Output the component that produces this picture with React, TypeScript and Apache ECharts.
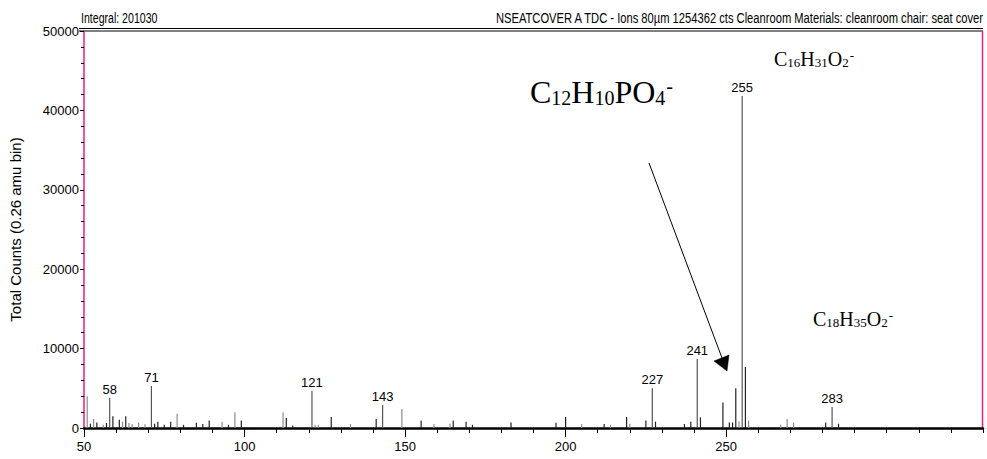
import React, { useEffect, useRef } from "react";
import * as echarts from "echarts";

// ---------- data ----------
const xTickLabels = [50, 100, 150, 200, 250, 300];
const yTickLabels = [0, 10000, 20000, 30000, 40000, 50000];

// labeled peaks: [m/z, counts]
const labeledPeaks: [number, number][] = [
  [58, 3800], [71, 5300], [121, 4700], [143, 2900],
  [227, 5000], [241, 8700], [255, 41800], [283, 2650],
];

// unlabeled dark peaks
const darkPeaks: [number, number][] = [
  [52, 540], [54, 700], [57, 630], [59, 1470], [61, 1050], [63, 1470],
  [72, 540], [73, 800], [75, 400], [77, 800], [81, 400], [85, 670],
  [87, 500], [89, 960], [95, 400], [99, 960], [113, 1260], [115, 300],
  [127, 1390], [141, 1130], [155, 960], [165, 960], [169, 800], [171, 400],
  [183, 700], [197, 670], [200, 1390], [212, 500], [219, 1390], [225, 950],
  [228, 800], [237, 500], [239, 800], [242, 1340], [249, 3200], [251, 700],
  [252, 700], [253, 5000], [256, 7700], [281, 700], [285, 540],
];

// unlabeled grey peaks
const grayPeaks: [number, number][] = [
  [51, 4000], [53, 1130], [56, 400], [62, 800], [64, 630], [65, 500],
  [67, 670], [69, 480], [79, 1800], [93, 800], [97, 1970], [112, 1970],
  [122, 400], [123, 400], [133, 500], [149, 2400], [159, 500], [164, 540],
  [205, 500], [214, 400], [220, 540], [254, 840], [257, 960], [267, 400],
  [269, 1130], [271, 700],
];

const headerLeft = "Integral: 201030";
const headerRight =
  "NSEATCOVER A TDC - Ions 80µm 1254362 cts Cleanroom Materials: cleanroom chair: seat cover";
const yAxisTitle = "Total Counts (0.26 amu bin)";

// formula pieces: [text, role]  role: n = normal, s = subscript, p = superscript
const formulaBig: [string, string][] = [["C", "n"], ["12", "s"], ["H", "n"], ["10", "s"], ["PO", "n"], ["4", "s"], ["-", "p"]];
const formulaTop: [string, string][] = [["C", "n"], ["16", "s"], ["H", "n"], ["31", "s"], ["O", "n"], ["2", "s"], ["-", "p"]];
const formulaLow: [string, string][] = [["C", "n"], ["18", "s"], ["H", "n"], ["35", "s"], ["O", "n"], ["2", "s"], ["-", "p"]];

// ---------- styling ----------
const NARROW = "'Liberation Sans Narrow', 'Arial Narrow', 'Liberation Sans', Arial, sans-serif";
const SANS = "'Liberation Sans', Arial, sans-serif";
const SERIF = "'Liberation Serif', 'Times New Roman', serif";
const PINK = "#ee1a8c";

function richFormula(parts: [string, string][]) {
  return parts.map(([t, r]) => `{${r}|${t}}`).join("");
}

function bigRich() {
  return {
    n: { fontFamily: SERIF, fontSize: 32, lineHeight: 32, verticalAlign: "top", fill: "#000" },
    s: { fontFamily: SERIF, fontSize: 20, lineHeight: 20, padding: [12, 0, 0, 0], verticalAlign: "top", fill: "#000" },
    p: { fontFamily: SERIF, fontSize: 20, lineHeight: 10, padding: [0, 0, 0, 1], verticalAlign: "top", fill: "#000" },
  };
}
function smallRich() {
  return {
    n: { fontFamily: SERIF, fontSize: 20, lineHeight: 20, verticalAlign: "top", fill: "#000" },
    s: { fontFamily: SERIF, fontSize: 13, lineHeight: 13, padding: [7, 0, 0, 0], verticalAlign: "top", fill: "#000" },
    p: { fontFamily: SERIF, fontSize: 13, lineHeight: 6, padding: [0, 0, 0, 1], verticalAlign: "top", fill: "#000" },
  };
}

function barSeries(arr: [number, number][], color: string, labeled: boolean) {
  return {
    type: "bar",
    data: arr.map(([m, v]) => [m, v]),
    barWidth: 1.2,
    barGap: "-100%",
    silent: true,
    itemStyle: { color },
    label: labeled
      ? {
          show: true,
          position: "top",
          distance: 2,
          fontFamily: NARROW,
          fontSize: 13,
          color: "#000",
          formatter: (p: any) => String(p.value[0]),
        }
      : { show: false },
  };
}

export default function App() {
  const ref = useRef<HTMLDivElement>(null);

  useEffect(() => {
    if (!ref.current) return;
    const chart = echarts.init(ref.current, undefined, { renderer: "svg" });

    const option: any = {
      animation: false,
      backgroundColor: "#fff",
      grid: { left: 80, right: 4, top: 31, bottom: 31, containLabel: false },
      xAxis: [
        {
          type: "value",
          min: 50,
          max: 330,
          interval: 50,
          axisLine: { show: true, onZero: false, lineStyle: { color: "#000", width: 2.5 } },
          axisTick: { show: true, length: 9, customValues: xTickLabels, lineStyle: { color: "#000" } },
          axisLabel: {
            customValues: xTickLabels,
            fontFamily: NARROW,
            fontSize: 13,
            color: "#000",
            margin: 12,
            showMaxLabel: false,
            formatter: (v: number) => String(v),
          },
          splitLine: { show: false },
        },
        {
          type: "value",
          min: 50,
          max: 330,
          interval: 10,
          position: "bottom",
          axisLine: { show: false },
          axisTick: { show: true, length: 5, lineStyle: { color: "#000" } },
          axisLabel: { show: false },
          splitLine: { show: false },
        },
      ],
      yAxis: {
        type: "value",
        min: yTickLabels[0],
        max: yTickLabels[yTickLabels.length - 1],
        interval: 10000,
        axisLine: { show: true, onZero: false, lineStyle: { color: PINK, width: 1.5 } },
        axisTick: { show: true, length: 4, lineStyle: { color: "#000" } },
        minorTick: { show: true, splitNumber: 5, length: 3, lineStyle: { color: "#000" } },
        axisLabel: {
          fontFamily: NARROW,
          fontSize: 13,
          color: "#000",
          margin: 5,
          formatter: (v: number) => String(v),
        },
        splitLine: { show: false },
        name: yAxisTitle,
        nameLocation: "middle",
        nameGap: 61,
        nameTextStyle: { fontFamily: SANS, fontSize: 15, color: "#000" },
      },
      series: [
        barSeries(grayPeaks, "#8c8c8c", false),
        barSeries(darkPeaks, "#222", false),
        barSeries(labeledPeaks, "#555", true),
      ],
      graphic: [
        // top double border
        { type: "line", silent: true, shape: { x1: 79, y1: 28.5, x2: 983, y2: 28.5 }, style: { stroke: "#000", lineWidth: 1 } },
        { type: "line", silent: true, shape: { x1: 79, y1: 31, x2: 983, y2: 31 }, style: { stroke: "#000", lineWidth: 1 } },
        // right pink border
        { type: "line", silent: true, shape: { x1: 982.5, y1: 31, x2: 982.5, y2: 428 }, style: { stroke: PINK, lineWidth: 1.5 } },
        // header texts
        {
          type: "text",
          silent: true,
          x: 81,
          y: 10,
          scaleX: 0.705,
          style: { text: headerLeft, x: 0, y: 0, font: `15px ${NARROW}`, fill: "#000", textAlign: "left", textVerticalAlign: "top", align: "left", verticalAlign: "top" },
        },
        {
          type: "text",
          silent: true,
          x: 983,
          y: 10,
          scaleX: 0.745,
          style: { text: headerRight, x: 0, y: 0, font: `15px ${NARROW}`, fill: "#000", textAlign: "right", textVerticalAlign: "top", align: "right", verticalAlign: "top" },
        },
        // formulas
        {
          type: "text",
          silent: true,
          x: 530,
          y: 76,
          style: { text: richFormula(formulaBig), rich: bigRich(), textAlign: "left", textVerticalAlign: "top", align: "left", verticalAlign: "top" },
        },
        {
          type: "text",
          silent: true,
          x: 774,
          y: 49,
          style: { text: richFormula(formulaTop), rich: smallRich(), textAlign: "left", textVerticalAlign: "top", align: "left", verticalAlign: "top" },
        },
        {
          type: "text",
          silent: true,
          x: 813,
          y: 309,
          style: { text: richFormula(formulaLow), rich: smallRich(), textAlign: "left", textVerticalAlign: "top", align: "left", verticalAlign: "top" },
        },
        // arrow
        { type: "line", silent: true, shape: { x1: 649, y1: 163, x2: 722, y2: 358 }, style: { stroke: "#000", lineWidth: 1 } },
        {
          type: "polygon",
          silent: true,
          shape: { points: [[714, 361], [729, 355], [727, 371]] },
          style: { fill: "#000", stroke: "#000", lineWidth: 0.5 },
        },
      ],
    };

    chart.setOption(option);
    return () => chart.dispose();
  }, []);

  return (
    <div
      ref={ref}
      style={{ position: "fixed", left: 0, top: 0, width: 987, height: 459, background: "#fff" }}
    />
  );
}
